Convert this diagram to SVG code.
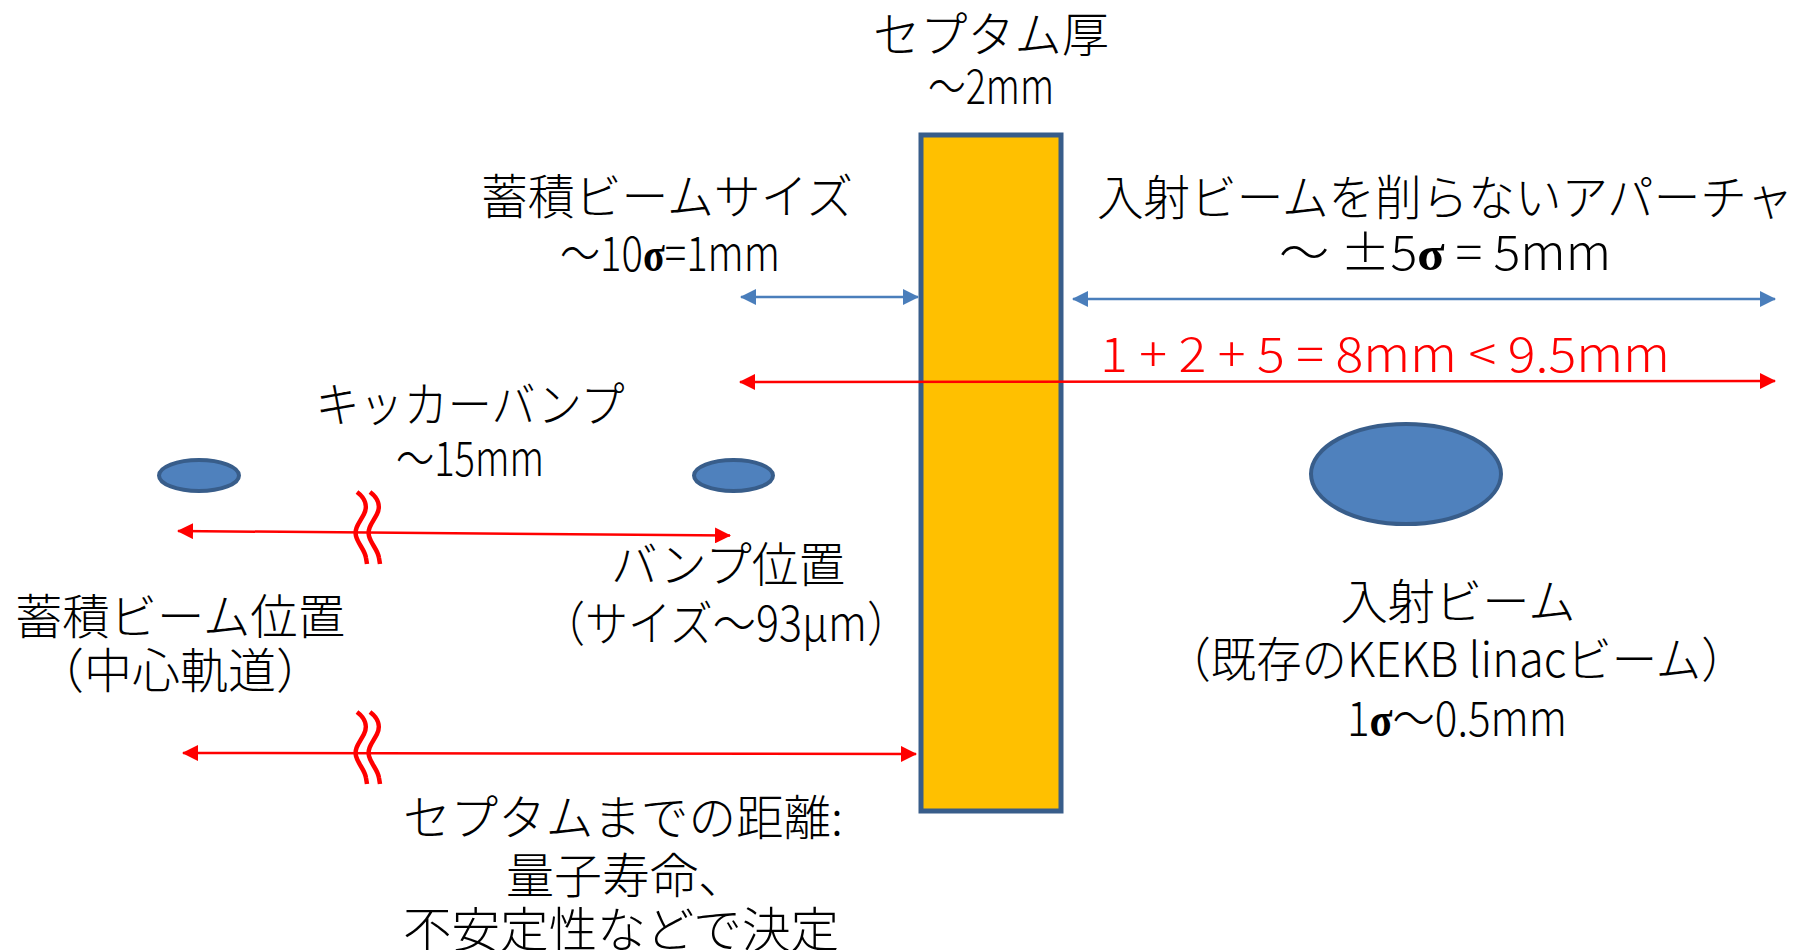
<svg xmlns="http://www.w3.org/2000/svg" width="1805" height="950" viewBox="0 0 1805 950">
<style>
text{font-family:"Noto Sans CJK JP","Noto Sans CJK SC",sans-serif;font-size:48px;font-weight:300;fill:#000;text-anchor:middle}
.red{fill:#FF0000}
.sg{font-family:"Liberation Serif",serif;font-weight:bold}
.beam{fill:#4F81BD;stroke:#385D8A;stroke-width:4}
.blue{stroke:#4A7EBB;stroke-width:2.5;fill:none}
.rl{stroke:#FF0000;stroke-width:2.5;fill:none}
.wave{stroke:#FF0000;stroke-width:4.5;fill:none}
</style>
<defs>
<marker id="ab" viewBox="0 0 16 16" refX="15" refY="8" markerWidth="16" markerHeight="16" orient="auto-start-reverse" markerUnits="userSpaceOnUse"><path d="M0,0 L16,8 L0,16 z" fill="#4A7EBB"/></marker>
<marker id="ar" viewBox="0 0 16 16" refX="15" refY="8" markerWidth="16" markerHeight="16" orient="auto-start-reverse" markerUnits="userSpaceOnUse"><path d="M0,0 L16,8 L0,16 z" fill="#FF0000"/></marker>
<g id="wv"><path class="wave" d="M0,0 C8,6 11,14 7,22 C3,30 -3,36 -1,44 C1,52 8,58 9,66 L10,72"/><path class="wave" d="M13,0 C21,6 24,14 20,22 C16,30 10,36 12,44 C14,52 21,58 22,66 L23,72"/></g>
</defs>
<g id="septum"><rect x="921" y="135" width="140" height="676" fill="#FFC000" stroke="#385D8A" stroke-width="5"/>
<text x="991" y="52" textLength="236" lengthAdjust="spacingAndGlyphs">セプタム厚</text>
<text x="991" y="104" textLength="126" lengthAdjust="spacingAndGlyphs">～2mm</text></g>
<g id="stored-size"><text x="667" y="214" textLength="372" lengthAdjust="spacingAndGlyphs">蓄積ビームサイズ</text>
<text x="670" y="271" textLength="220" lengthAdjust="spacingAndGlyphs">～10<tspan class="sg">σ</tspan>=1mm</text></g>
<g id="aperture"><text x="1445" y="215" textLength="696" lengthAdjust="spacingAndGlyphs">入射ビームを削らないアパーチャ</text>
<text x="1445" y="270" textLength="332" lengthAdjust="spacingAndGlyphs">～ ±5<tspan class="sg">σ</tspan> = 5mm</text></g>
<g id="sum"><text class="red" x="1385" y="372" textLength="570" lengthAdjust="spacingAndGlyphs">1 + 2 + 5 = 8mm &lt; 9.5mm</text></g>
<g id="kicker"><text x="470" y="422" textLength="309" lengthAdjust="spacingAndGlyphs">キッカーバンプ</text>
<text x="470" y="476" textLength="148" lengthAdjust="spacingAndGlyphs">～15mm</text></g>
<g id="stored-beam"><ellipse class="beam" cx="199" cy="475.5" rx="40" ry="15.5"/>
<text x="180" y="634" textLength="330" lengthAdjust="spacingAndGlyphs">蓄積ビーム位置</text>
<text x="180" y="688">（中心軌道）</text></g>
<g id="bump-beam"><ellipse class="beam" cx="733.5" cy="475.5" rx="39.5" ry="15.5"/>
<text x="728" y="582" textLength="234" lengthAdjust="spacingAndGlyphs">バンプ位置</text>
<text x="726" y="641" textLength="368" lengthAdjust="spacingAndGlyphs">（サイズ～93μm）</text></g>
<g id="injected-beam"><ellipse class="beam" cx="1406" cy="474" rx="95" ry="50"/>
<text x="1458" y="619" textLength="235" lengthAdjust="spacingAndGlyphs">入射ビーム</text>
<text x="1456" y="677" textLength="581" lengthAdjust="spacingAndGlyphs">（既存のKEKB linacビーム）</text>
<text x="1457" y="736" textLength="220" lengthAdjust="spacingAndGlyphs">1<tspan class="sg">σ</tspan>～0.5mm</text></g>
<g id="distance"><text x="623" y="835" textLength="440" lengthAdjust="spacingAndGlyphs">セプタムまでの距離:</text>
<text x="626" y="893">量子寿命、</text>
<text x="621" y="947" textLength="436" lengthAdjust="spacingAndGlyphs">不安定性などで決定</text></g>
<g id="connectors">
<line class="blue" x1="741" y1="297" x2="918" y2="297" marker-start="url(#ab)" marker-end="url(#ab)"/>
<line class="blue" x1="1073" y1="299" x2="1775" y2="299" marker-start="url(#ab)" marker-end="url(#ab)"/>
<line class="rl" x1="740" y1="382" x2="1775" y2="381" marker-start="url(#ar)" marker-end="url(#ar)"/>
<line class="rl" x1="178" y1="531" x2="730" y2="535.5" marker-start="url(#ar)" marker-end="url(#ar)"/>
<line class="rl" x1="183" y1="753" x2="916" y2="754" marker-start="url(#ar)" marker-end="url(#ar)"/>
<use href="#wv" x="357" y="492"/>
<use href="#wv" x="357" y="712"/>
</g>
</svg>
